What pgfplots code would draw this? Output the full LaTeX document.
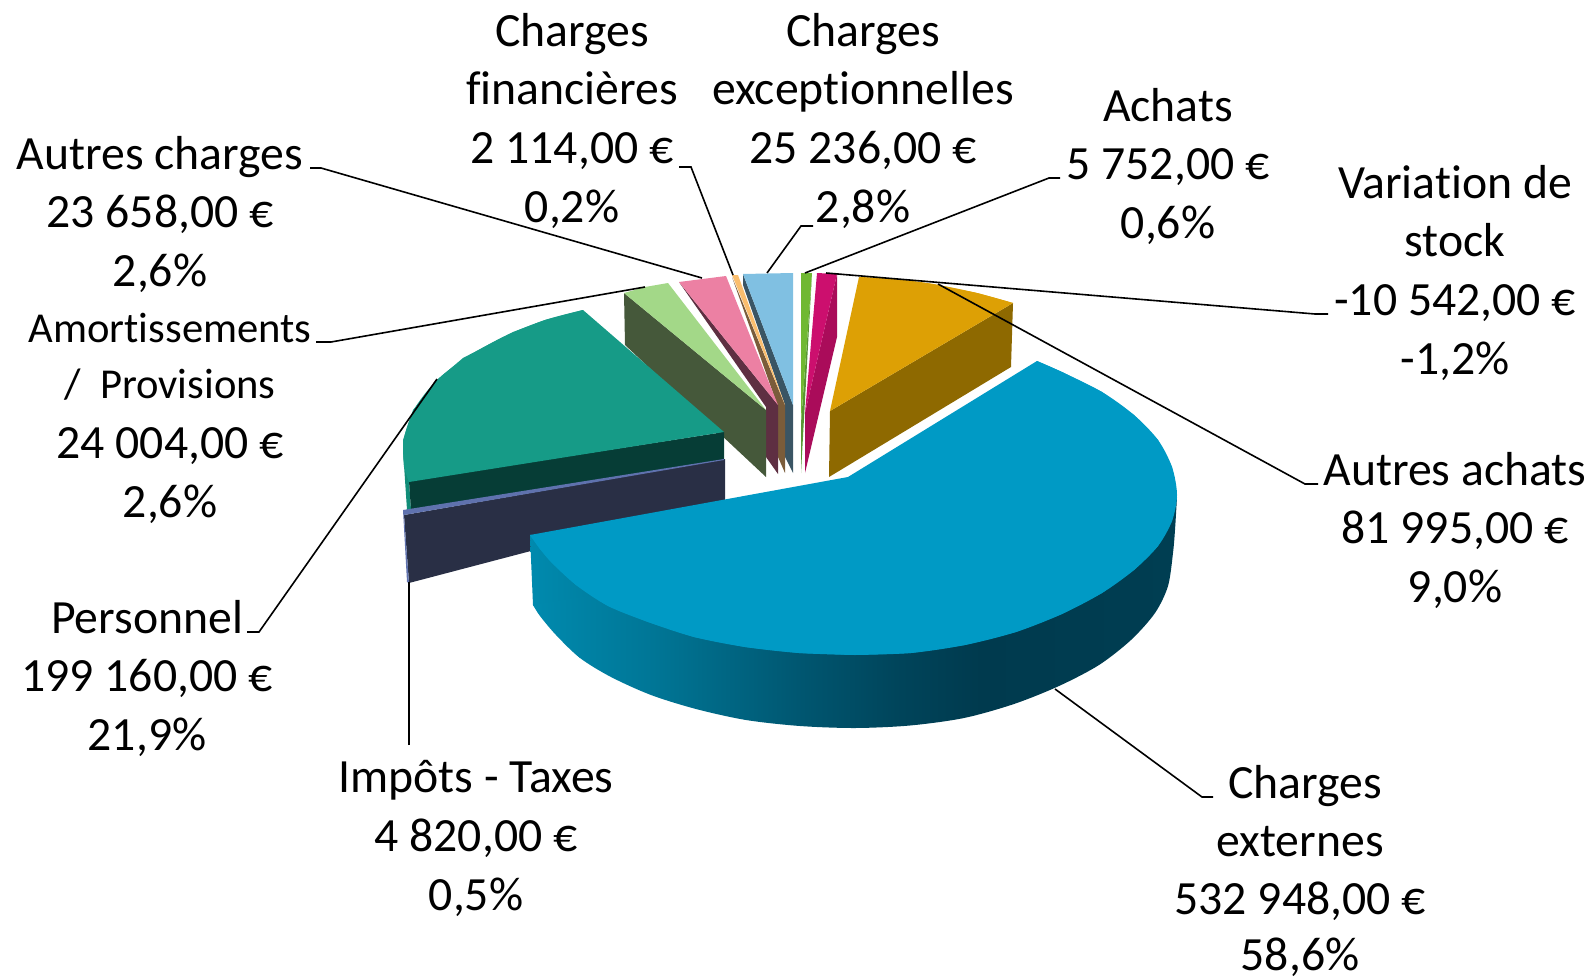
\documentclass[border=0pt]{standalone}
\usepackage{pgfplots}
\pgfplotsset{compat=1.18}
\usepackage{fontspec}
\setmainfont[Ligatures=CommonOff]{Carlito}
\definecolor{sa}{RGB}{0,138,174}
\definecolor{sb}{RGB}{0,118,150}
\definecolor{sc}{RGB}{0,86,112}
\definecolor{sd}{RGB}{0,68,90}
\definecolor{se}{RGB}{0,58,78}
\definecolor{sf}{RGB}{0,62,82}
\pgfdeclarehorizontalshading{mainside}{100bp}{color(0bp)=(sa);color(25bp)=(sa);color(34.3bp)=(sb);color(45.9bp)=(sc);color(53.6bp)=(sd);color(59.8bp)=(se);color(75bp)=(sf);color(100bp)=(sf)}
\definecolor{mtop}{RGB}{0,154,197}
\definecolor{gtop}{RGB}{221,160,5}
\definecolor{gside}{RGB}{142,105,0}
\definecolor{ctop}{RGB}{204,15,110}
\definecolor{cside}{RGB}{170,12,90}
\definecolor{atop}{RGB}{112,184,50}
\definecolor{aside}{RGB}{88,150,50}
\definecolor{btop}{RGB}{128,192,226}
\definecolor{bside}{RGB}{58,85,100}
\definecolor{otop}{RGB}{250,190,110}
\definecolor{oside}{RGB}{122,92,58}
\definecolor{ptop}{RGB}{236,128,163}
\definecolor{pside}{RGB}{94,47,66}
\definecolor{lgtop}{RGB}{163,216,136}
\definecolor{lgside}{RGB}{69,88,58}
\definecolor{ttop}{RGB}{22,155,135}
\definecolor{tside}{RGB}{6,61,54}
\definecolor{tedge}{RGB}{17,141,120}
\definecolor{ntop}{RGB}{95,114,174}
\definecolor{nside}{RGB}{41,47,69}
\newcommand\poly[2]{\addplot[draw=none,fill=#1] coordinates {#2} -- cycle;}
\newcommand\sarc[2]{\addplot[draw=none,fill=#1,smooth] coordinates {#2};}
\newcommand\lead[1]{\addplot[black,line width=1.6pt] coordinates {#1};}
\newcommand\lbl[3]{\node[anchor=base,inner sep=0pt] at (axis cs:#1,#2) {#3};}
\begin{document}
\begin{tikzpicture}
\useasboundingbox (0,0) rectangle (1591pt,977pt);
\begin{axis}[scale only axis,width=1591pt,height=977pt,xmin=0,xmax=1591,ymin=0,ymax=977,y dir=reverse,hide axis,clip=false,font=\fontsize{47.7}{57}\selectfont]
% Autres achats
\poly{gside}{(830,411)(829,477)(1011,367)(1013,303)}
\poly{gtop}{(830,411)(859,277)(895,279)(933,284)(977,293)(1013,303)}
\sarc{gtop}{(859,277)(895,279)(933,284)(977,293)(1013,303)}
% Variation de stock
\poly{cside}{(837,274)(837,337)(805,473)(805,413)}
\poly{ctop}{(817,273)(837,274)(805,413)}
% Achats
\poly{aside}{(812,273)(801,473)(801,423)}
\poly{atop}{(801,273)(812,273)(801,423)}
% Charges exceptionnelles
\poly{bside}{(743,274)(793,405)(793,473)(785,457)(785,405)(743,285)}
\poly{btop}{(743,274)(793,273)(793,405)}
% Charges financieres
\poly{oside}{(732,277)(785,405)(785,473)(778,457)(778,407)}
\poly{otop}{(732,275)(738,275)(785,405)}
% Autres charges
\poly{pside}{(679,282)(778,405)(778,474)(766,457)(766,407)}
\poly{ptop}{(679,282)(726,276)(778,405)}
% Amortissements
\poly{lgside}{(624,293)(766,410)(766,477)(625,345)}
\poly{lgtop}{(624,293)(645,287)(668,283)(766,410)}
% Personnel
\poly{tedge}{(403,450)(409,481)(411,510)(407,510)}
\poly{tside}{(409,481)(724,432)(724,460)(411,510)}
\poly{ttop}{(724,432)(583,310)(545,320)(513,332)(463,358)(437,380)(413,410)(403,440)(404,467)(409,482)}
\sarc{ttop}{(583,310)(545,320)(505,336)(467,357)(437,380)(415,408)(404,438)(404,465)(409,482)}
% Impots
\poly{nside}{(404,515)(725,459)(725,500)(409,583)}
\poly{ntop}{(403,510)(724,459)(724,460)(404,515)(409,583)(407,582)}
% Charges externes
\addplot[draw=none,shade,shading=mainside] coordinates {(530,535)(533,605)(580,658)(1177,497)} -- cycle;
\addplot[draw=none,shade,shading=mainside,smooth] coordinates {(533,605)(540,616)(556,635)(580,658)(611,677)(651,695)(696,709)(746,720)(800,726)(855,728)(910,725.5)(964,718)(1014,704)(1059,686)(1099,665)(1131,640)(1155,613)(1168,586)(1173,553)(1175,530)(1177,497)};
\poly{mtop}{(848,477)(1037,361)(1062,372)(1102,392)(1134,415)(1158,440)(1172,467)(1177,495)(1172,521)(1158,546)(1134,570)(1102,593)(1062,614)(1016,632)(965,645)(911,653)(855,655)(799,653)(745,647)(694,637)(648,622)(608,606)(576,585)(552,563)(540,549)(530,535)}
\sarc{mtop}{(1037,361)(1062,372)(1102,392)(1134,415)(1158,440)(1172,467)(1177,495)(1172,521)(1158,546)(1134,570)(1102,593)(1062,614)(1016,632)(965,645)(911,653)(855,655)}
\sarc{mtop}{(855,655)(799,653)(745,647)(694,637)(648,622)(608,606)(576,585)(552,563)(540,549)(530,535)}
% Leaders
\lead{(310,168)(321,168)(702,278)}
\lead{(679,167)(691,167)(733,275)}
\lead{(316,342)(331,342)(645,287)}
\lead{(813,226)(801,226)(767,273)}
\lead{(1060,178)(1049,178)(805,273)}
\lead{(1328,314)(1315,314)(826,273)}
\lead{(1318,484)(1305,484)(938,284)}
\lead{(247,632)(259,632)(437,379)}
\lead{(409,745)(409,582)}
\lead{(1055,689)(1202,797)(1213,797)}
% Labels
\lbl{572}{46}{Charges}
\lbl{572}{104}{financières}
\lbl{572}{163}{2 114,00 €}
\lbl{572}{222}{0,2\%}
\lbl{863}{46}{Charges}
\lbl{863}{104}{exceptionnelles}
\lbl{863}{163}{25 236,00 €}
\lbl{863}{222}{2,8\%}
\lbl{160}{169}{Autres charges}
\lbl{160}{227}{23 658,00 €}
\lbl{160}{286}{2,6\%}
\lbl{1168}{121}{Achats}
\lbl{1168}{179}{5 752,00 €}
\lbl{1168}{238}{0,6\%}
\lbl{1455}{198}{Variation de}
\lbl{1455}{256}{stock}
\lbl{1455}{315}{-10 542,00 €}
\lbl{1455}{374}{-1,2\%}
\lbl{1455}{485}{Autres achats}
\lbl{1455}{543}{81 995,00 €}
\lbl{1455}{602}{9,0\%}
\lbl{1305}{798}{Charges}
\lbl{1300}{856}{externes}
\lbl{1300}{914}{532 948,00 €}
\lbl{1300}{970}{58,6\%}
\lbl{476}{792}{Impôts - Taxes}
\lbl{476}{851}{4 820,00 €}
\lbl{476}{910}{0,5\%}
\lbl{147}{633}{Personnel}
\lbl{147}{691}{199 160,00 €}
\lbl{147}{750}{21,9\%}
\lbl{170}{342}{\fontsize{42.6}{50}\selectfont Amortissements}
\lbl{170}{398}{\fontsize{42.6}{50}\selectfont /\ \ Provisions}
\lbl{170}{458}{24 004,00 €}
\lbl{170}{517}{2,6\%}
\end{axis}
\end{tikzpicture}
\end{document}
